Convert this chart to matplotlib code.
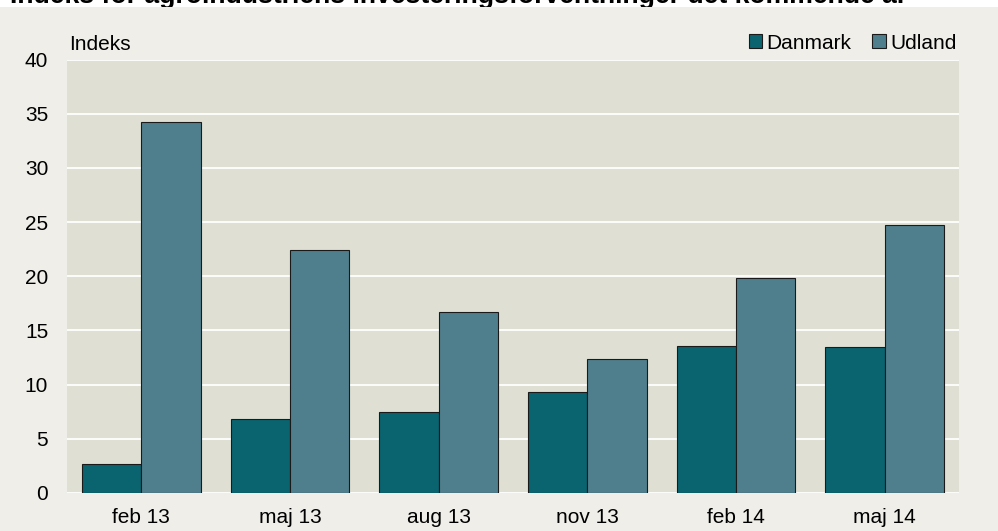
import matplotlib
matplotlib.use('Agg')
import matplotlib.pyplot as plt
from matplotlib.patches import Rectangle
import numpy as np

plt.rcParams['font.family'] = ['Liberation Sans', 'DejaVu Sans']

# data
categories = ['feb 13', 'maj 13', 'aug 13', 'nov 13', 'feb 14', 'maj 14']
danmark = [2.7, 6.8, 7.5, 9.3, 13.6, 13.5]
udland = [34.2, 22.4, 16.7, 12.4, 19.8, 24.7]
yticks = [0, 5, 10, 15, 20, 25, 30, 35, 40]

title = "Indeks for agroindustriens investeringsforventninger det kommende år"

W, H = 998, 531
fig = plt.figure(figsize=(W / 100, H / 100), dpi=100, facecolor='white')

# grey panel below the clipped title strip
fig.patches.append(Rectangle((0, 0), 1, 1 - 7 / H, transform=fig.transFigure,
                             facecolor='#EFEEE8', edgecolor='none', zorder=-1))

ax = fig.add_axes([67 / W, 1 - 493 / H, (959 - 67) / W, (493 - 59.5) / H])
ax.set_facecolor('#E0DFD4')

x = np.arange(len(categories))
w = 0.4
ax.bar(x - w / 2, danmark, w, color='#0A6470', edgecolor='#1a1a1a', linewidth=0.8,
       label='Danmark', zorder=3)
ax.bar(x + w / 2, udland, w, color='#4F7F8C', edgecolor='#1a1a1a', linewidth=0.8,
       label='Udland', zorder=3)

ax.set_xlim(-0.5, len(categories) - 0.5)
ax.set_ylim(0, 40)
ax.set_yticks(yticks)
ax.set_xticks(x)
ax.set_xticklabels(categories)
ax.yaxis.grid(True, color='white', linewidth=1.3, zorder=1)
ax.set_axisbelow(True)
for s in ax.spines.values():
    s.set_visible(False)
ax.tick_params(axis='both', length=0, labelsize=15, colors='black')
ax.tick_params(axis='y', pad=13.5)
ax.tick_params(axis='x', pad=11)

leg = ax.legend(loc='center right', bbox_to_anchor=(0.997, 1.038), ncol=2,
                frameon=False, fontsize=15, handlelength=0.65, handleheight=0.65,
                handletextpad=0.2, columnspacing=1.0, borderaxespad=0, borderpad=0)

fig.text(69 / W, 1 - 45 / H, 'Indeks', fontsize=15, va='center', ha='left')
fig.text(10 / W, 1 - 3.0 / H, title, fontsize=19.2, fontweight='bold',
         va='baseline', ha='left', zorder=-2)

fig.savefig('out.png', dpi=100, facecolor=fig.get_facecolor())
